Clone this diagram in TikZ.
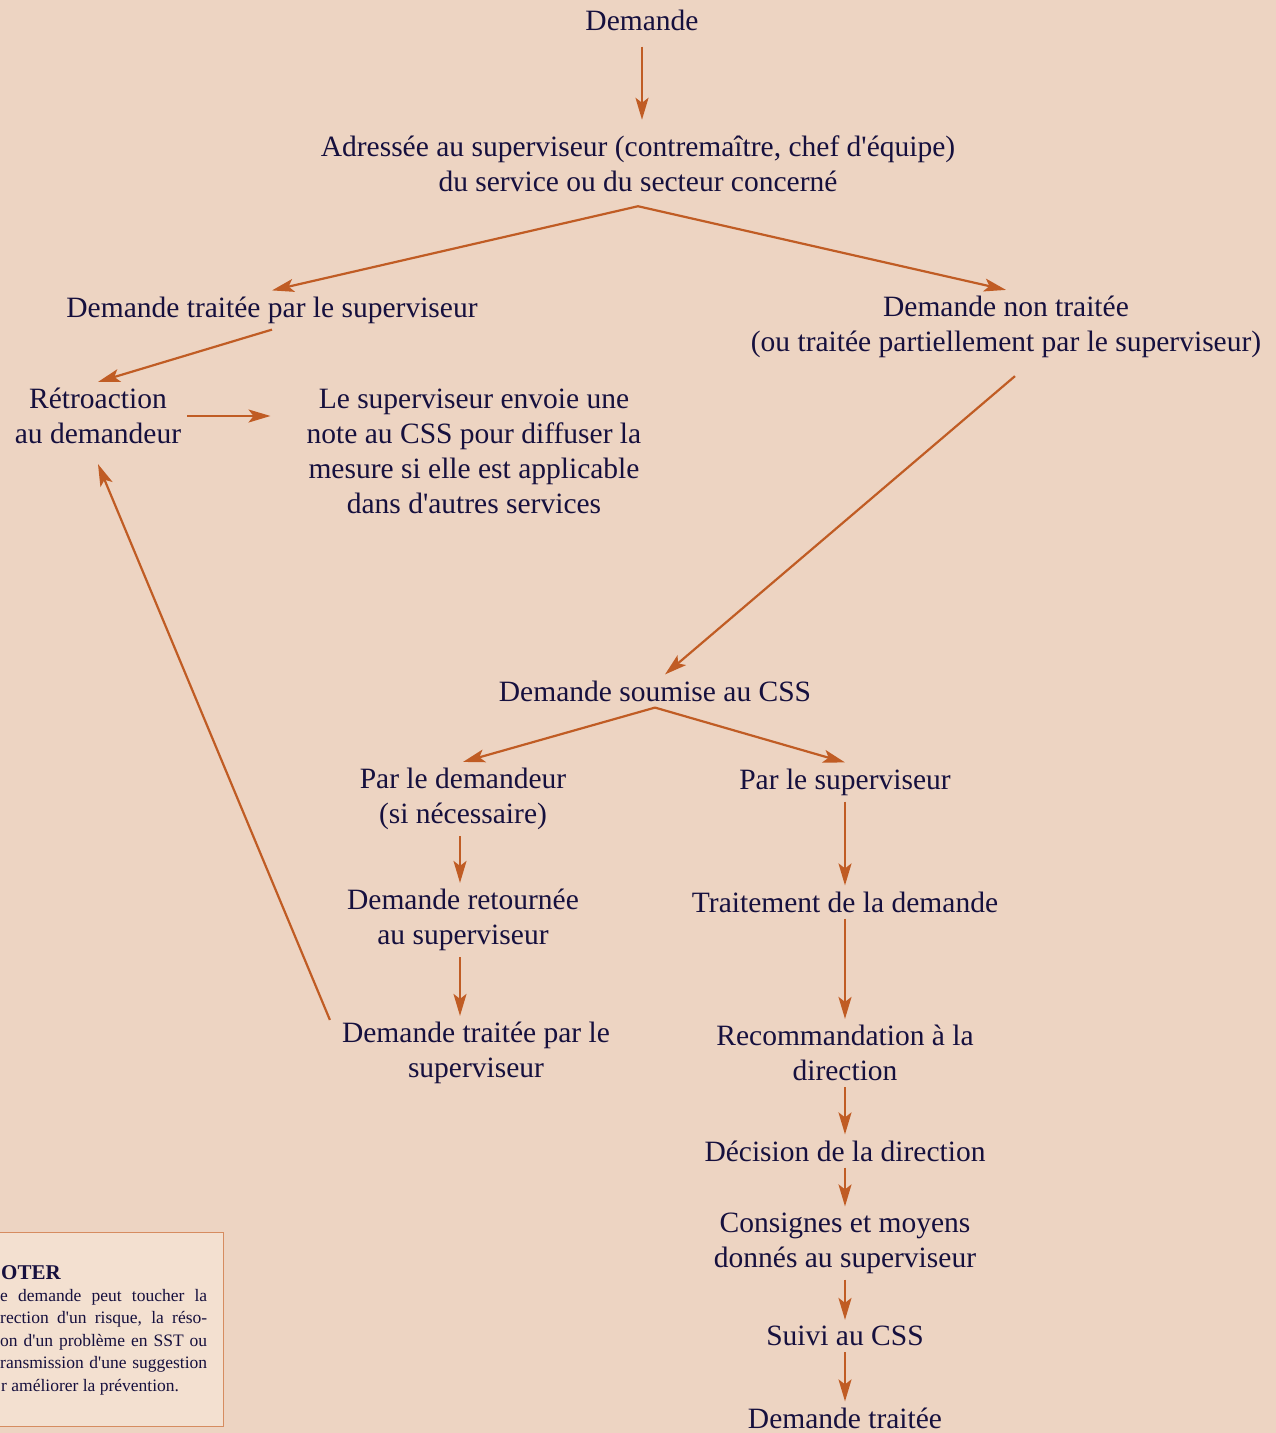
\documentclass[tikz,border=0pt]{standalone}
\usepackage{fontspec}
\setmainfont{Liberation Serif}[Ligatures=TeXOff]
\usetikzlibrary{arrows, arrows.meta}
\definecolor{fond}{RGB}{237,212,194}
\definecolor{fleche}{RGB}{192,92,36}
\definecolor{encre}{RGB}{22,16,62}
\definecolor{cadre}{RGB}{214,140,96}
\definecolor{fondnote}{RGB}{243,224,208}

\begin{document}
\begin{tikzpicture}[x=1pt, y=-1pt,
  txt/.style={text=encre, font=\fontsize{29.5}{35}\selectfont, align=center, inner sep=6pt},
  fl/.style={draw=fleche, line width=2.2pt, -{Stealth[length=22pt, width=13pt, inset=5pt]}},
  petit/.style={text=encre, font=\fontsize{17.5}{22.5}\selectfont, inner sep=0pt}]
  \fill[fond] (0,0) rectangle (1276,1433);
  \useasboundingbox (0,0) rectangle (1276,1433);

  \node[txt] (1) at (642,20) {Demande};
  \node[txt] (2) at (638,164) {Adressée au superviseur (contremaître, chef d'équipe)\\du service ou du secteur concerné};
  \node[txt] (3) at (272,310) {Demande traitée par le superviseur};
  \node[txt] (4) at (1006,327) {Demande non traitée\\(ou traitée partiellement par le superviseur)};
  \node[txt] (5) at (98,416) {Rétroaction\\au demandeur};
  \node[txt] (6) at (474,451) {Le superviseur envoie une\\note au CSS pour diffuser la\\mesure si elle est applicable\\dans d'autres services};
  \node[txt] (7) at (655,691) {Demande soumise au CSS};
  \node[txt] (8) at (463,799) {Par le demandeur\\(si nécessaire)};
  \node[txt] (9) at (845,782) {Par le superviseur};
  \node[txt] (10) at (463,920) {Demande retournée\\au superviseur};
  \node[txt] (11) at (845,902) {Traitement de la demande};
  \node[txt] (12) at (476,1053) {Demande traitée par le\\superviseur};
  \node[txt] (13) at (845,1053) {Recommandation à la\\direction};
  \node[txt] (14) at (845,1151) {Décision de la direction};
  \node[txt] (15) at (845,1243) {Consignes et moyens\\donnés au superviseur};
  \node[txt] (16) at (845,1336) {Suivi au CSS};
  \node[txt] (17) at (845,1418) {Demande traitée};

  \draw[fl] ([yshift=-10pt]1.south) -- ([yshift=10pt]1.south |- 2.north);
  \draw[fl] ([yshift=-8pt]2.south) -- (3.north);
  \draw[fl] ([yshift=-8pt]2.south) -- (4.north);
  \draw[fl] (3.south) -- (5.north);
  \draw[fl, shorten >=30pt] (5.east) -- (5.east -| 6.west);
  \draw[fl] ([xshift=9pt, yshift=-12pt]4.south) -- ([xshift=10pt]7.north);
  \draw[fl] (7.south) -- (8.north);
  \draw[fl] (7.south) -- (9.north);
  \draw[fl] ([xshift=-3pt]8.south) -- ([xshift=-3pt]8.south |- 10.north);
  \draw[fl] ([xshift=-3pt]10.south) -- ([xshift=-3pt]10.south |- 12.north);
  \draw[fl] ([xshift=-6pt, yshift=-4pt]12.north west) -- ([yshift=-14pt]5.south);
  \draw[fl] (9) -- (11);
  \draw[fl] (11) -- (13);
  \draw[fl] (13) -- (14);
  \draw[fl] (14) -- (15);
  \draw[fl] (15) -- (16);
  \draw[fl] (16) -- (17);

  % encadre a noter
  \node[draw=cadre, fill=fondnote, line width=1pt, minimum width=232pt, minimum height=194pt, inner sep=0pt] (18) at (107,1329) {};
  \node[petit, font=\bfseries\fontsize{21}{22}\selectfont, anchor=base west] (19) at (1,1279) {OTER};
  \node[petit, anchor=base west] (20) at (0,1301) {\makebox[207pt][s]{e demande peut toucher la}};
  \node[petit, anchor=base west] (21) at (0,1323) {\makebox[207pt][s]{rection d'un risque, la réso-}};
  \node[petit, anchor=base west] (22) at (0,1346) {\makebox[207pt][s]{on d'un problème en SST ou}};
  \node[petit, anchor=base west] (23) at (0,1368) {\makebox[207pt][s]{ransmission d'une suggestion}};
  \node[petit, anchor=base west] (24) at (1,1391) {r améliorer la prévention.};
\end{tikzpicture}
\end{document}
